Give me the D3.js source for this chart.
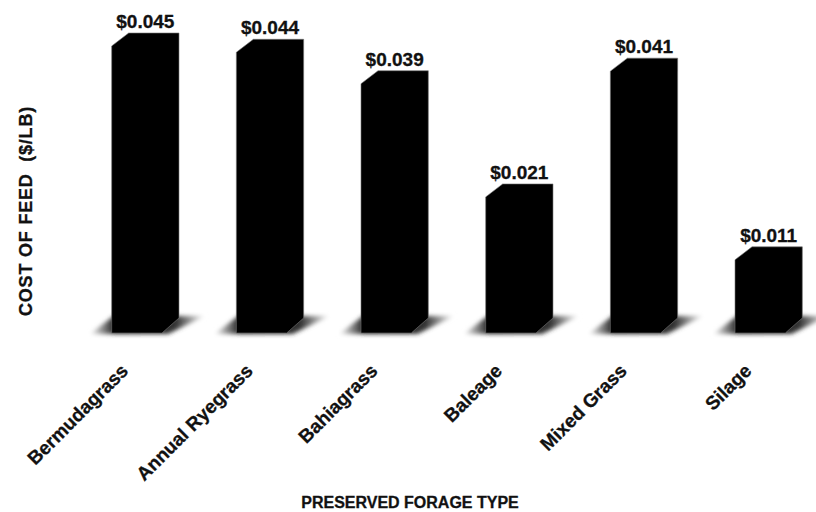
<!DOCTYPE html>
<html>
<head>
<meta charset="utf-8">
<script src="https://cdn.jsdelivr.net/npm/d3@7"></script>
<style>
  body { margin: 0; background: #fff; }
  text { font-family: "Liberation Sans", Arial, sans-serif; font-weight: bold; fill: #111; stroke: #111; stroke-width: 0.3px; }
</style>
</head>
<body>
<div id="chart"></div>
<script>
// chart data
const categories = ["Bermudagrass", "Annual Ryegrass", "Bahiagrass", "Baleage", "Mixed Grass", "Silage"];
const costs = [0.045, 0.044, 0.039, 0.021, 0.041, 0.011];
const costLabels = ["$0.045", "$0.044", "$0.039", "$0.021", "$0.041", "$0.011"];

const width = 816, height = 512;
const depthX = 17, depthY = 13;   // 3d offset of the box top

const svg = d3.select("#chart").append("svg")
    .attr("width", width)
    .attr("height", height);

const defs = svg.append("defs");
defs.append("filter").attr("id", "blur")
    .attr("x", "-20%").attr("y", "-100%").attr("width", "140%").attr("height", "300%")
    .append("feGaussianBlur").attr("stdDeviation", 2.2);

const grad = defs.append("linearGradient").attr("id", "shade")
    .attr("x1", "0%").attr("x2", "100%");
grad.append("stop").attr("offset", "0%").attr("stop-color", "#fff");
grad.append("stop").attr("offset", "22%").attr("stop-color", "#1a1a1a");
grad.append("stop").attr("offset", "75%").attr("stop-color", "#333");
grad.append("stop").attr("offset", "100%").attr("stop-color", "#fff");

// scales
const x = d3.scaleBand()
    .domain(categories)
    .range([83, 831])
    .paddingInner(0.46)
    .paddingOuter(0.23);

const y = d3.scaleLinear()
    .domain([0, 0.045])
    .range([316, 33]);

const floor = y(0) + 17;
const w = x.bandwidth();

const bars = svg.selectAll(".bar")
    .data(categories.map((c, i) => ({cat: c, v: costs[i], label: costLabels[i]})))
    .enter().append("g")
    .attr("class", "bar");

// floor shadow
bars.append("polygon")
    .attr("points", d => {
        const x0 = x(d.cat);
        return [[x0 - 22, floor + 1], [x0 + w - depthX + 6, floor + 1],
                [x0 + w + 26, floor - 17], [x0 + 2, floor - 17]].join(" ");
    })
    .attr("fill", "url(#shade)")
    .attr("filter", "url(#blur)");

// the box
bars.append("polygon")
    .attr("points", d => {
        const x0 = x(d.cat), top = y(d.v);
        return [[x0, top + depthY], [x0 + depthX, top], [x0 + w, top],
                [x0 + w, floor - depthY - 2], [x0 + w - depthX, floor], [x0, floor]].join(" ");
    })
    .attr("fill", "#000")
    .attr("stroke", "#777")
    .attr("stroke-width", 0.6);

// value labels
bars.append("text")
    .attr("x", d => x(d.cat) + w / 2)
    .attr("y", d => y(d.v) - 5)
    .attr("text-anchor", "middle")
    .style("font-size", "19px")
    .text(d => d.label);

// category labels
svg.append("g").selectAll("text")
    .data(categories)
    .enter().append("text")
    .attr("transform", d => `translate(${x(d) + w / 2 - 16},${floor + 39}) rotate(-45)`)
    .attr("text-anchor", "end")
    .style("font-size", "19px")
    .text(d => d);

// axis titles
svg.append("text")
    .attr("transform", `translate(32,${(100 + 322) / 2}) rotate(-90)`)
    .attr("text-anchor", "middle")
    .style("font-size", "18px")
    .style("letter-spacing", "0.8px")
    .style("white-space", "pre")
    .text("COST OF FEED  ($/LB)");

svg.append("text")
    .attr("x", 410)
    .attr("y", 508)
    .attr("text-anchor", "middle")
    .style("font-size", "16px")
    .text("PRESERVED FORAGE TYPE");
</script>
</body>
</html>
